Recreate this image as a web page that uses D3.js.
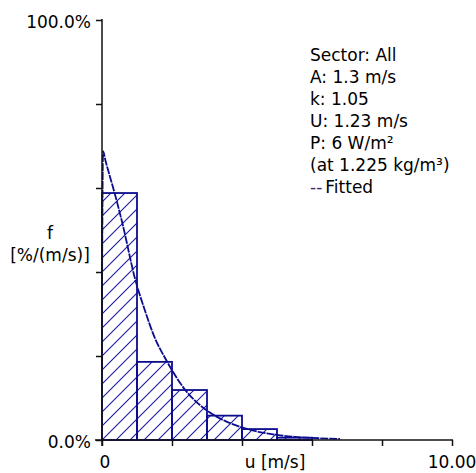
<!DOCTYPE html>
<html lang="en">
<head>
    <meta charset="utf-8">
    <title>Wind speed distribution</title>
    <script type="text/javascript" src="https://d3js.org/d3.v7.min.js"></script>
    <style type="text/css">
        body { margin: 0; background: #fff; }
        text { font-family: "DejaVu Sans", sans-serif; font-size: 17px; fill: #000; }
    </style>
</head>
<body>
    <script type="text/javascript">
        // histogram bins (m/s) and observed frequency in %/(m/s)
        var binStart = [0, 1, 2, 3, 4, 5];
        var binFreq = [58.8, 18.6, 11.9, 5.8, 2.6, 0.55];

        // fitted curve
        var fitU = [0, 0.03, 0.1, 0.2, 0.37, 0.6, 0.94, 1.2, 1.5, 1.85, 2.37, 3, 3.5, 4, 4.5, 5, 5.5, 6, 6.8];
        var fitF = [34, 68.8, 66.5, 63.5, 58.5, 51, 38.5, 31.5, 24.5, 18.8, 12, 7, 4.6, 3, 1.9, 1.2, 0.75, 0.5, 0.25];

        var xTicks = [0, 2, 4, 6, 8, 10];
        var yTicks = [0, 20, 40, 60, 80, 100];
        var legendLines = ["Sector: All", "A: 1.3 m/s", "k: 1.05", "U: 1.23 m/s", "P: 6 W/m\u00b2", "(at 1.225 kg/m\u00b3)"];

        var navy = "#0c0c8e";
        var width = 476, height = 473;

        var svg = d3.select("body")
            .append("svg")
            .attr("width", width)
            .attr("height", height);

        var x = d3.scaleLinear().domain([0, 10]).range([102, 452]);
        var y = d3.scaleLinear().domain([0, 100]).range([440, 20]);

        // hatch pattern
        var pat = svg.append("defs").append("pattern")
            .attr("id", "hatch")
            .attr("patternUnits", "userSpaceOnUse")
            .attr("width", 14)
            .attr("height", 14)
            .attr("x", 102)
            .attr("y", 440);
        pat.append("path")
            .attr("d", "M0,14 L14,0 M-7,7 L7,-7 M7,21 L21,7")
            .attr("stroke", "#1a1aa0")
            .attr("stroke-width", 1.1);

        // bars
        svg.selectAll(".bar")
            .data(binStart)
            .enter()
            .append("rect")
            .attr("class", "bar")
            .attr("x", function(d) { return x(d); })
            .attr("width", function(d) { return x(d + 1) - x(d); })
            .attr("y", function(d, i) { return y(binFreq[i]); })
            .attr("height", function(d, i) { return y(0) - y(binFreq[i]); })
            .attr("fill", "url(#hatch)")
            .attr("stroke", navy)
            .attr("stroke-width", 1.8);

        // fitted curve
        var line = d3.line()
            .x(function(d, i) { return x(fitU[i]); })
            .y(function(d, i) { return y(fitF[i]); })
            .curve(d3.curveMonotoneX);
        svg.append("path")
            .attr("d", line(fitU))
            .attr("fill", "none")
            .attr("stroke", navy)
            .attr("stroke-width", 1.8)
            .attr("stroke-dasharray", "8,1");

        // axes
        var xAxis = svg.append("g").attr("transform", "translate(0,440)")
            .call(d3.axisBottom(x).tickValues(xTicks).tickSize(6).tickFormat(""));
        var yAxis = svg.append("g").attr("transform", "translate(102,0)")
            .call(d3.axisLeft(y).tickValues(yTicks).tickSize(6).tickFormat(""));
        [xAxis, yAxis].forEach(function(a) {
            a.select(".domain").remove();
            a.selectAll(".tick line").attr("stroke", "#111").attr("stroke-width", 1.5);
        });
        svg.append("line").attr("x1", 95).attr("x2", 453).attr("y1", 440).attr("y2", 440)
            .attr("stroke", "#111").attr("stroke-width", 1.5);
        svg.append("line").attr("x1", 102).attr("x2", 102).attr("y1", 19).attr("y2", 446)
            .attr("stroke", "#111").attr("stroke-width", 1.5);

        // axis labels
        svg.append("text").attr("x", 91).attr("y", y(100) + 8).attr("text-anchor", "end").text("100.0%");
        svg.append("text").attr("x", 91).attr("y", y(0) + 8).attr("text-anchor", "end").text("0.0%");
        svg.append("text").attr("x", x(0) + 3).attr("y", 468).attr("text-anchor", "middle").text("0");
        svg.append("text").attr("x", x(10)).attr("y", 468).attr("text-anchor", "middle").text("10.00");
        svg.append("text").attr("x", 275).attr("y", 468).attr("text-anchor", "middle").text("u [m/s]");
        svg.append("text").attr("x", 50).attr("y", 239).attr("text-anchor", "middle").text("f");
        svg.append("text").attr("x", 50).attr("y", 261).attr("text-anchor", "middle").text("[%/(m/s)]");

        // info box
        var info = svg.append("g");
        info.selectAll("text")
            .data(legendLines)
            .enter()
            .append("text")
            .attr("x", 310)
            .attr("y", function(d, i) { return 61 + i * 22; })
            .text(function(d) { return d; });
        var fitted = info.append("text").attr("x", 310).attr("y", 61 + 6 * 22);
        fitted.append("tspan").style("fill", "#3a2a7a").text("--");
        fitted.append("tspan").attr("dx", 3).text("Fitted");
    </script>
</body>
</html>
